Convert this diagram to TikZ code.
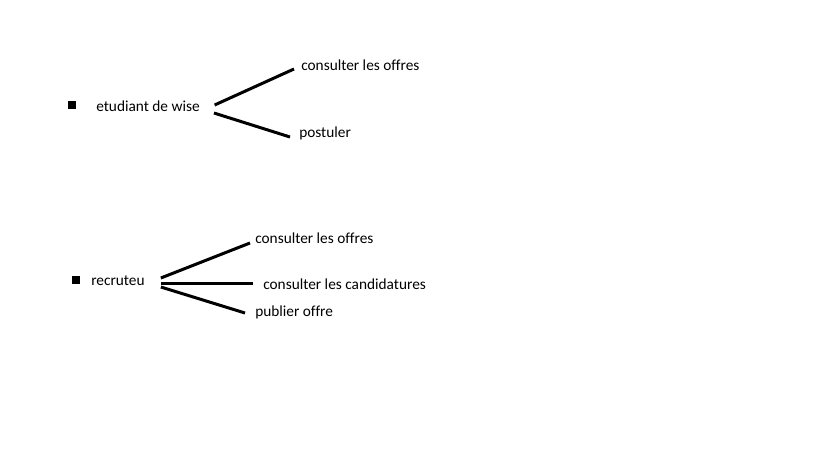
\documentclass[tikz,border=0pt]{standalone}
\usepackage{fontspec}
\setmainfont{Carlito}[Ligatures=NoCommon]
\usepackage{tikz}
\usetikzlibrary{positioning}

\begin{document}
\begin{tikzpicture}[x=0.75pt,y=-0.75pt]
\useasboundingbox (0,0) rectangle (819,460);
\tikzset{
  lbl/.style={anchor=west, inner sep=0pt, font=\fontsize{11.5}{13}\selectfont},
  puce/.style={fill=black, inner sep=0pt, minimum size=5.6pt},
  trait/.style={line width=2.25pt}
}

% etudiant
\node [puce] (p1) at (72,105) {};
\node [lbl] (etu) at (96,106) {etudiant de wise};
\node [lbl] (eoffres) at (301,65) {consulter les offres};
\node [lbl] (epost) at (299,133) {postuler};
\draw [trait] ([xshift=11pt,yshift=0.75pt]etu.east)--([xshift=-5.25pt,yshift=-3pt]eoffres.west);
\draw [trait] ([xshift=10.5pt,yshift=-5.25pt]etu.east)--([xshift=-6.75pt,yshift=-3pt]epost.west);

% recruteur
\node [puce] (p2) at (76,280) {};
\node [lbl] (rec) at (91,281) {recruteu};
\node [lbl] (roffres) at (255,238) {consulter les offres};
\node [lbl] (rcand) at (263,284) {consulter les candidatures};
\node [lbl] (rpub) at (255,312) {publier offre};
\draw [trait] ([xshift=12pt,yshift=2.25pt]rec.east)--([xshift=-3.75pt,yshift=-3.75pt]roffres.west);
\draw [trait] ([xshift=12pt,yshift=-1.9pt]rec.east)--([xshift=-7.5pt,yshift=0.35pt]rcand.west);
\draw [trait] ([xshift=12pt,yshift=-4.5pt]rec.east)--([xshift=-7.5pt,yshift=-0.75pt]rpub.west);

\end{tikzpicture}
\end{document}
